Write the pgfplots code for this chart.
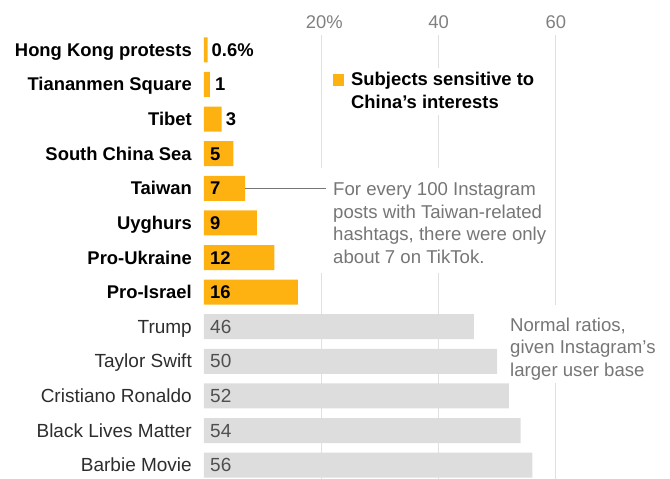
\documentclass[border=0pt]{standalone}
\usepackage{pgfplots}
\pgfplotsset{compat=1.18}
\usepackage{fontspec}
\setmainfont{Liberation Sans}
\definecolor{org}{RGB}{253,178,18}
\definecolor{bargray}{RGB}{221,221,221}
\definecolor{gridgray}{RGB}{224,224,224}
\definecolor{annot}{RGB}{118,118,118}
\definecolor{ticktxt}{RGB}{128,128,128}
\definecolor{lbl}{RGB}{45,45,45}
\definecolor{numgray}{RGB}{80,80,80}
\newcommand{\fs}{\fontsize{18.4}{21}\selectfont}
\newcommand{\fl}{\fontsize{19}{22}\selectfont}
\newcommand{\fa}{\fontsize{18.6}{22}\selectfont}
\newcommand{\fn}{\fontsize{18.4}{21}\selectfont}
\begin{document}
\begin{tikzpicture}[x=1pt,y=1pt]
\path[use as bounding box] (0,0) rectangle (670,479);
\begin{axis}[
  at={(204pt,0pt)}, anchor=south west, scale only axis,
  width=469.2pt, height=444pt,
  xmin=0, xmax=80, ymin=-0.43, ymax=12.4, y dir=reverse,
  axis line style={draw=none}, major tick length=0pt,
  xtick={20,40,60}, xticklabels={\hspace*{6pt}20\%,40,60},
  xticklabel pos=upper,
  xticklabel style={anchor=base, yshift=6pt, font=\fs, text=ticktxt, inner sep=0pt},
  ytick={0,...,12},
  yticklabels={\textbf{Hong Kong protests},\textbf{Tiananmen Square},\textbf{Tibet},\textbf{South China Sea},\textbf{Taiwan},\textbf{Uyghurs},\textbf{Pro-Ukraine},\textbf{Pro-Israel},{\fl\color{lbl}Trump},{\fl\color{lbl}Taylor Swift},{\fl\color{lbl}Cristiano Ronaldo},{\fl\color{lbl}Black Lives Matter},{\fl\color{lbl}Barbie Movie}},
  yticklabel style={anchor=base east, inner sep=0pt, xshift=-12pt, yshift=-6.5pt, font=\fs},
  xmajorgrids, grid style={gridgray, line width=0.9pt},
  xbar, bar width=25pt, clip=false,
]
\addplot[fill=org, draw=none, bar shift=0pt] coordinates {(0.6,0) (1,1) (3,2) (5,3) (7,4) (9,5) (12,6) (16,7)};
\addplot[fill=bargray, draw=none, bar shift=0pt] coordinates {(46,8) (50,9) (52,10) (54,11) (56,12)};
% value labels
\begin{scope}[every node/.style={anchor=base west, inner sep=0pt, yshift=-6.5pt, font=\fn\bfseries}]
\node[xshift=4pt] at (axis cs:0.6,0) {0.6\%};
\node[xshift=5pt] at (axis cs:1,1) {1};
\node[xshift=4pt] at (axis cs:3,2) {3};
\node[xshift=6pt] at (axis cs:0,3) {5};
\node[xshift=6pt] at (axis cs:0,4) {7};
\node[xshift=6pt] at (axis cs:0,5) {9};
\node[xshift=6pt] at (axis cs:0,6) {12};
\node[xshift=6pt] at (axis cs:0,7) {16};
\end{scope}
\begin{scope}[every node/.style={anchor=base west, inner sep=0pt, yshift=-6.5pt, font=\fl, text=numgray, xshift=6pt}]
\node at (axis cs:0,8) {46};
\node at (axis cs:0,9) {50};
\node at (axis cs:0,10) {52};
\node at (axis cs:0,11) {54};
\node at (axis cs:0,12) {56};
\end{scope}
% white backgrounds for annotations
\fill[white] (axis cs:18.93,3.41) rectangle (axis cs:59.4,6.445);
\fill[white] (axis cs:50.98,7.37) rectangle (axis cs:78.6,9.62);
\fill[white] (axis cs:21.14,0.52) rectangle (axis cs:57.29,1.879);
% legend key
\fill[org] (axis cs:21.94,0.708) rectangle (axis cs:23.92,1.055);
\begin{scope}[every node/.style={anchor=base west, inner sep=0pt, font=\fs\bfseries}]
\node at (axis cs:25.06,1.040) {Subjects sensitive to};
\node at (axis cs:25.06,1.691) {China’s interests};
\end{scope}
% Taiwan annotation
\draw[annot, line width=0.9pt] (axis cs:7,4) -- (axis cs:20.8,4);
\begin{scope}[every node/.style={anchor=base west, inner sep=0pt, font=\fa, text=annot}]
\node at (axis cs:22.0,4.211) {For every 100 Instagram};
\node at (axis cs:22.0,4.861) {posts with Taiwan-related};
\node at (axis cs:22.0,5.512) {hashtags, there were only};
\node at (axis cs:22.0,6.162) {about 7 on TikTok.};
\node at (axis cs:52.17,8.136) {Normal ratios,};
\node at (axis cs:52.17,8.786) {given Instagram’s};
\node at (axis cs:52.17,9.436) {larger user base};
\end{scope}
\end{axis}
\end{tikzpicture}
\end{document}
